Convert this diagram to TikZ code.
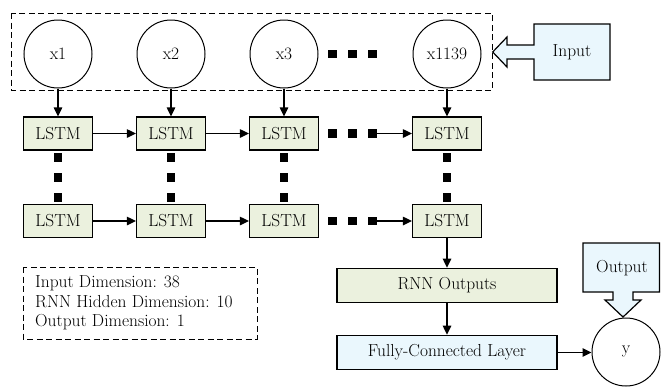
\documentclass[tikz,border=0pt]{standalone}
\usetikzlibrary{arrows.meta}
\definecolor{lstmgreen}{HTML}{EBF1DE}
\definecolor{paleblue}{HTML}{EAF7FD}
\begin{document}
\begin{tikzpicture}[x=1pt,y=-1pt,
  font=\fontsize{17.4}{19.5}\selectfont,
  every node/.style={inner sep=0pt},
  unit/.style={circle, draw, line width=1pt, minimum size=68pt},
  lstm/.style={rectangle, draw, line width=1.2pt, fill=lstmgreen,
               minimum width=69pt, minimum height=33pt},
  wide/.style={rectangle, draw, line width=1.2pt,
               minimum width=220pt, minimum height=34.5pt},
  flow/.style={-{Triangle[length=9pt,width=8.5pt]}, line width=1.2pt},
  dotsq/.style={rectangle, fill=black, minimum size=8.5pt},
  frame/.style={dash pattern=on 6pt off 3.5pt, line width=1pt},
  block/.style={draw, line width=1.2pt, fill=paleblue, line join=miter}]

\useasboundingbox (0,0) rectangle (661,386);

% input frame and input units
\draw[frame] (11,13) rectangle (492,90);
\node[unit] (x1) at (58,54)  {x1};
\node[unit] (x2) at (171,54) {x2};
\node[unit] (x3) at (284,54) {x3};
\node[unit] (xn) at (447,54) {x1139};

% LSTM grid
\foreach \c/\x in {1/58,2/171,3/284,4/447}{
  \node[lstm] (l\c a) at (\x,133.5) {LSTM};
  \node[lstm] (l\c b) at (\x,221) {LSTM};
  \foreach \y in {157.5,177.5,197.5}
    \node[dotsq] at (\x,\y) {};
}

% horizontal ellipses
\foreach \y in {54,133.5,221}
  \foreach \x in {332.5,352.5,372.5}
    \node[dotsq] at (\x,\y) {};
\coordinate (ea) at (376.5,133.5);
\coordinate (eb) at (376.5,221);

% output stages
\node[wide, fill=lstmgreen] (rnn) at (447,285.5) {RNN Outputs};
\node[wide, fill=paleblue]  (fc)  at (447,352.5) {Fully-Connected Layer};
\node[unit] (y) at (626,352) {y};

% parameter summary
\draw[frame] (23,267) rectangle (257,339);
\node[anchor=west, align=left] (params) at (35,303)
  {Input Dimension: 38\\RNN Hidden Dimension: 10\\Output Dimension: 1};

% block arrows
\draw[block] (534,24) -- (610,24) -- (610,80) -- (534,80) -- (534,59)
  -- (507,59) -- (507,67) -- (492.7,52) -- (507,37) -- (507,45)
  -- (534,45) -- cycle;
\node (inlabel) at (572,52) {Input};
\draw[block] (583,243) -- (659.5,243) -- (659.5,292) -- (633,292)
  -- (633,300) -- (641,300) -- (623,317) -- (605,300) -- (613,300)
  -- (613,292) -- (583,292) -- cycle;
\node (outlabel) at (622,268) {Output};

% connectors
\draw[flow] (x1) -- (l1a);
\draw[flow] (x2) -- (l2a);
\draw[flow] (x3) -- (l3a);
\draw[flow] (xn) -- (l4a);
\draw[flow] (l1a) -- (l2a);
\draw[flow] (l2a) -- (l3a);
\draw[flow] (ea) -- (l4a);
\draw[flow] (l1b) -- (l2b);
\draw[flow] (l2b) -- (l3b);
\draw[flow] (eb) -- (l4b);
\draw[flow] (l4b) -- (rnn);
\draw[flow] (rnn) -- (fc);
\draw[flow] (fc.east) -- (y.west |- fc.east);
\end{tikzpicture}
\end{document}
